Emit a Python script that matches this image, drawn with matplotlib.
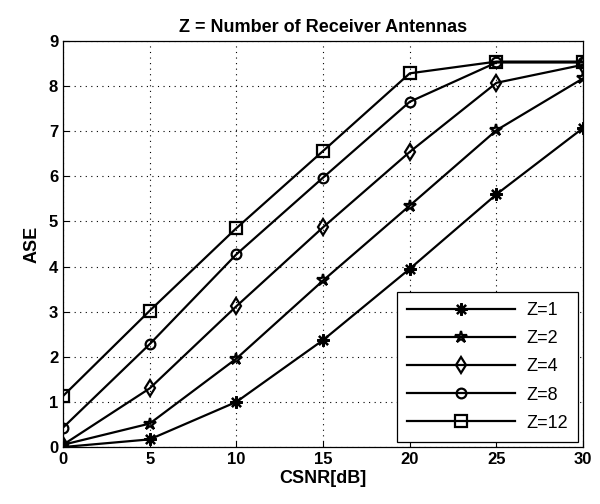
import numpy as np
import matplotlib.pyplot as plt

plt.rcParams['font.family'] = ['Liberation Sans', 'DejaVu Sans']

csnr = [0, 5, 10, 15, 20, 25, 30]
ase_z1 = [0.0, 0.17, 1.0, 2.37, 3.95, 5.6, 7.07]
ase_z2 = [0.05, 0.52, 1.96, 3.69, 5.35, 7.02, 8.17]
ase_z4 = [0.05, 1.3, 3.12, 4.87, 6.54, 8.07, 8.47]
ase_z8 = [0.43, 2.28, 4.27, 5.97, 7.65, 8.52, 8.52]
ase_z12 = [1.13, 3.02, 4.85, 6.56, 8.28, 8.54, 8.54]

labels = ['Z=1', 'Z=2', 'Z=4', 'Z=8', 'Z=12']
series = [ase_z1, ase_z2, ase_z4, ase_z8, ase_z12]
markers = [(8, 2, 0), '*', 'd', 'o', 's']
msizes = [9, 9, 8, 7, 8]

fig = plt.figure(figsize=(6.0, 5.04), dpi=100)
ax = fig.add_axes([0.105, 0.113, 0.867, 0.806])

for y, lab, m, ms in zip(series, labels, markers, msizes):
    ax.plot(csnr, y, color='black', lw=1.6, marker=m, ms=ms,
            mfc='none', mec='black', mew=1.6, label=lab)

ax.set_xlim(0, 30)
ax.set_ylim(0, 9)
ax.set_xticks(range(0, 31, 5))
ax.set_yticks(range(0, 10))
ax.grid(True, color='black', linestyle=(0, (1, 4)), lw=0.8)
ax.tick_params(direction='in', length=4, labelsize=12, width=0.8)
for lbl in ax.get_xticklabels() + ax.get_yticklabels():
    lbl.set_fontweight('bold')
for s in ax.spines.values():
    s.set_linewidth(0.9)

ax.set_xlabel('CSNR[dB]', fontsize=13, fontweight='bold', labelpad=2)
ax.set_ylabel('ASE', fontsize=13, fontweight='bold', labelpad=6)
ax.set_title('Z = Number of Receiver Antennas', fontsize=13, fontweight='bold', pad=6)

leg = ax.legend(loc='lower right', fontsize=13, handlelength=6.0, borderpad=0.55,
                labelspacing=0.62, fancybox=False, framealpha=1,
                edgecolor='black', borderaxespad=0.3, handletextpad=0.6)
leg.get_frame().set_linewidth(0.9)

fig.savefig('out.png', dpi=100)
